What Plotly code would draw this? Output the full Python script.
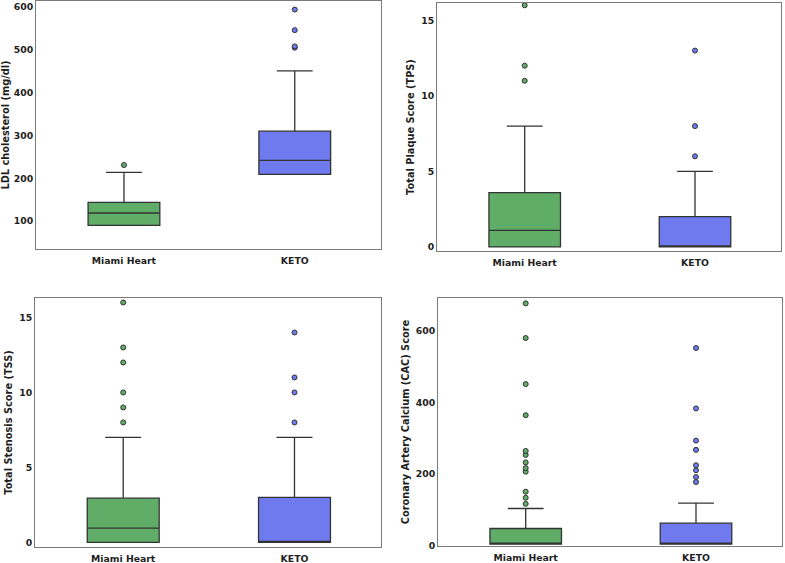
import plotly.graph_objects as go

groups = ["Miami Heart", "KETO"]
colors = ["#60ad68", "#6e7aee"]

# LDL cholesterol (mg/dl)
ldl_q1 = [90, 209]
ldl_med = [119, 242]
ldl_q3 = [144, 310]
ldl_lo = [90, 209]
ldl_hi = [214, 451]
ldl_out = [[231], [505, 508, 546, 594]]

# Total Plaque Score
tps_q1 = [0, 0]
tps_med = [1.1, 0.05]
tps_q3 = [3.6, 2]
tps_lo = [0, 0]
tps_hi = [8, 5]
tps_out = [[11, 12, 16], [6, 8, 13]]

# Total Stenosis Score
tss_q1 = [0, 0]
tss_med = [0.95, 0.05]
tss_q3 = [2.95, 3.0]
tss_lo = [0, 0]
tss_hi = [7, 7]
tss_out = [[8, 9, 10, 12, 13, 16], [8, 10, 11, 14]]

# Coronary Artery Calcium score
cac_q1 = [3, 3]
cac_med = [5, 5]
cac_q3 = [47, 62]
cac_lo = [3, 3]
cac_hi = [103, 118]
cac_out = [[116, 133, 150, 206, 216, 232, 253, 264, 364, 451, 580, 677],
           [177, 191, 210, 224, 267, 293, 383, 552]]

panels = [
    (ldl_q1, ldl_med, ldl_q3, ldl_lo, ldl_hi, ldl_out, "LDL cholesterol (mg/dl)", [35, 614], 100),
    (tps_q1, tps_med, tps_q3, tps_lo, tps_hi, tps_out, "Total Plaque Score (TPS)", [-0.27, 16.15], 5),
    (tss_q1, tss_med, tss_q3, tss_lo, tss_hi, tss_out, "Total Stenosis Score (TSS)", [-0.31, 16.3], 5),
    (cac_q1, cac_med, cac_q3, cac_lo, cac_hi, cac_out, "Coronary Artery Calcium (CAC) Score", [-2, 692], 200),
]

W, H = 785, 563
# pixel boxes of each plot area: left, right, top, bottom
areas = [(36, 381, 1, 249), (437, 781, 3, 251), (35, 381, 298, 547), (438, 782, 298, 546)]

fig = go.Figure()
tick_font = dict(family="DejaVu Sans", size=9.3, color="#1e1e1e", weight="bold")

for i, (q1, med, q3, lo, hi, out, title, yr, dt) in enumerate(panels):
    xa = "x" if i == 0 else f"x{i+1}"
    ya = "y" if i == 0 else f"y{i+1}"
    for j, g in enumerate(groups):
        fig.add_trace(go.Box(
            x=[g], q1=[q1[j]], median=[med[j]], q3=[q3[j]],
            lowerfence=[lo[j]], upperfence=[hi[j]],
            fillcolor=colors[j], line=dict(color="#333333", width=1.3),
            width=0.42, whiskerwidth=0.5, boxpoints=False,
            xaxis=xa, yaxis=ya, showlegend=False, hoverinfo="skip"))
        fig.add_trace(go.Scatter(
            x=[g] * len(out[j]), y=out[j], mode="markers",
            marker=dict(size=5, color=colors[j], line=dict(color="#333333", width=1)),
            xaxis=xa, yaxis=ya, showlegend=False, hoverinfo="skip"))
    l, r, t, b = areas[i]
    sfx = "" if i == 0 else str(i + 1)
    fig.layout["xaxis" + sfx] = dict(
        domain=[l / W, r / W], anchor=ya, type="category",
        categoryorder="array", categoryarray=groups,
        range=[-0.515, 1.505], showline=True, mirror=True,
        linecolor="#7a7a7a", linewidth=1, showgrid=False, zeroline=False,
        ticks="", tickfont=tick_font, ticklabelstandoff=3,
        fixedrange=True, automargin=False)
    fig.layout["yaxis" + sfx] = dict(
        domain=[1 - b / H, 1 - t / H], anchor=xa, range=yr,
        dtick=dt, showline=True, mirror=True, linecolor="#7a7a7a",
        linewidth=1, showgrid=False, zeroline=False, ticks="",
        tickfont=tick_font, fixedrange=True, automargin=False,
        title=dict(text=title, standoff=4,
                   font=dict(family="DejaVu Sans", size=9.8, color="#1e1e1e", weight="bold")))

fig.update_layout(
    width=W, height=H, margin=dict(l=0, r=0, t=0, b=0),
    paper_bgcolor="white", plot_bgcolor="white",
)

# drop the browser's default body margin so the figure fills the window
fig.write_html("out.html", config={"displayModeBar": False},
               post_script="document.body.style.margin='0';")
